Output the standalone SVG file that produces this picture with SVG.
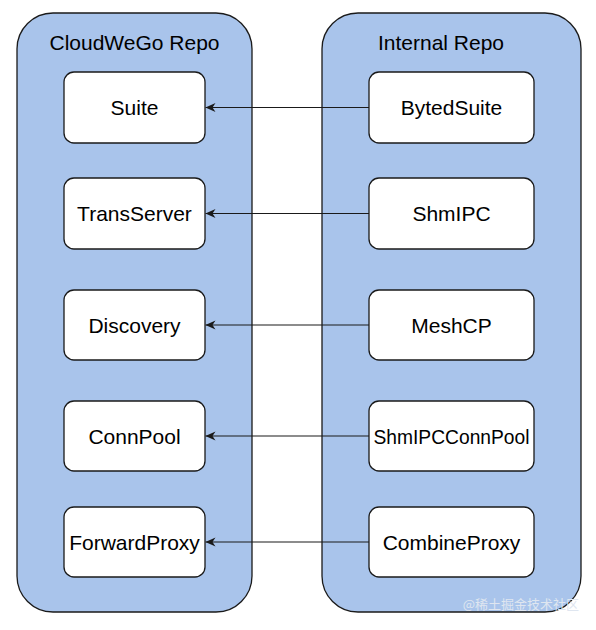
<svg xmlns="http://www.w3.org/2000/svg" width="596" height="630" viewBox="0 0 596 630">
  <defs>
    <style>
      .container { fill: #A9C4EB; stroke: #1a1a1a; stroke-width: 1.3; }
      .node { fill: #FFFFFF; stroke: #1a1a1a; stroke-width: 1.3; }
      .label { font-family: "Liberation Sans", Arial, Helvetica, sans-serif; font-size: 21px; fill: #000; text-anchor: middle; }
      .edge { stroke: #1a1a1a; stroke-width: 1.2; fill: none; marker-end: url(#arrow); }
      .wm { font-family: "Noto Sans CJK SC", "Liberation Sans", sans-serif; font-size: 13px; fill: #dfe6f0; text-anchor: end; }
    </style>
    <marker id="arrow" viewBox="0 0 10 10" refX="10" refY="5" markerWidth="10" markerHeight="10" markerUnits="userSpaceOnUse" orient="auto">
      <path d="M 0 0.5 L 10 5 L 0 9.5 L 3 5 Z" fill="#1a1a1a"/>
    </marker>
  </defs>
  <rect width="596" height="630" fill="#FFFFFF"/>

  <g id="cloudwego-repo">
    <rect class="container" x="17" y="13" width="235" height="599" rx="36" ry="36"/>
    <text class="label" x="134.5" y="50">CloudWeGo Repo</text>
  </g>
  <g id="internal-repo">
    <rect class="container" x="322" y="13" width="259" height="599" rx="36" ry="36"/>
    <text class="label" x="441" y="50">Internal Repo</text>
  </g>

  <g id="suite">
    <rect class="node" x="64" y="72" width="141" height="71" rx="10" ry="10"/>
    <text class="label" x="134.5" y="115">Suite</text>
  </g>
  <g id="transserver">
    <rect class="node" x="64" y="178" width="141" height="71" rx="10" ry="10"/>
    <text class="label" x="134.5" y="221">TransServer</text>
  </g>
  <g id="discovery">
    <rect class="node" x="64" y="290" width="141" height="70" rx="10" ry="10"/>
    <text class="label" x="134.5" y="332.5">Discovery</text>
  </g>
  <g id="connpool">
    <rect class="node" x="64" y="401" width="141" height="70" rx="10" ry="10"/>
    <text class="label" x="134.5" y="443.5">ConnPool</text>
  </g>
  <g id="forwardproxy">
    <rect class="node" x="64" y="507" width="141" height="70" rx="10" ry="10"/>
    <text class="label" x="134.5" y="549.5">ForwardProxy</text>
  </g>

  <g id="bytedsuite">
    <rect class="node" x="369" y="72" width="165" height="71" rx="10" ry="10"/>
    <text class="label" x="451.5" y="115">BytedSuite</text>
  </g>
  <g id="shmipc">
    <rect class="node" x="369" y="178" width="165" height="71" rx="10" ry="10"/>
    <text class="label" x="451.5" y="221">ShmIPC</text>
  </g>
  <g id="meshcp">
    <rect class="node" x="369" y="290" width="165" height="70" rx="10" ry="10"/>
    <text class="label" x="451.5" y="332.5">MeshCP</text>
  </g>
  <g id="shmipcconnpool">
    <rect class="node" x="369" y="401" width="165" height="70" rx="10" ry="10"/>
    <text class="label" x="451.5" y="443.5" textLength="156" lengthAdjust="spacingAndGlyphs">ShmIPCConnPool</text>
  </g>
  <g id="combineproxy">
    <rect class="node" x="369" y="507" width="165" height="70" rx="10" ry="10"/>
    <text class="label" x="451.5" y="549.5">CombineProxy</text>
  </g>

  <g id="connectors">
    <line class="edge" x1="369" y1="107.5" x2="205.5" y2="107.5"/>
    <line class="edge" x1="369" y1="213.5" x2="205.5" y2="213.5"/>
    <line class="edge" x1="369" y1="325" x2="205.5" y2="325"/>
    <line class="edge" x1="369" y1="436" x2="205.5" y2="436"/>
    <line class="edge" x1="369" y1="542" x2="205.5" y2="542"/>
  </g>

  <text class="wm" x="579" y="609">@稀土掘金技术社区</text>
</svg>
